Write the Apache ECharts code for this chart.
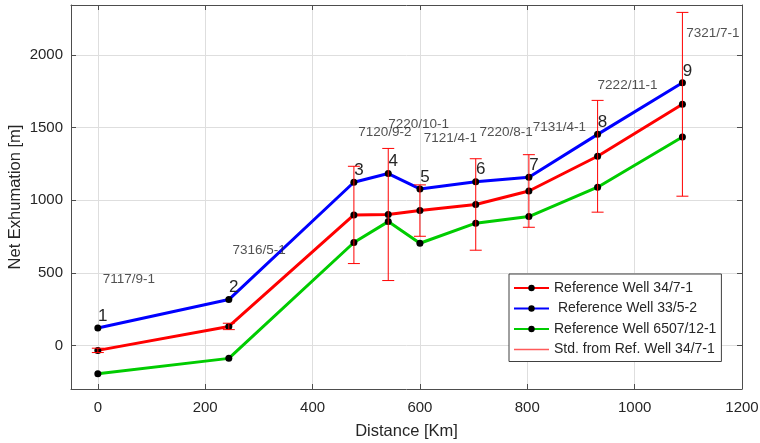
<!DOCTYPE html>
<html>
<head>
<meta charset="utf-8">
<script src="https://cdn.jsdelivr.net/npm/echarts@6/dist/echarts.min.js"></script>
<style>
  html, body { margin: 0; padding: 0; background: #fff; }
  #chart { width: 760px; height: 443px; }
</style>
</head>
<body>
<div id="chart"></div>
<script>
// Well numbering and distance along the profile
const wellNumbers = ['1', '2', '3', '4', '5', '6', '7', '8', '9'];
const distanceKm = [0, 244, 477, 541, 600, 704, 803, 931, 1089];

// Net exhumation estimates [m] relative to each reference well
const exhumRef34_7_1 = [-34, 131, 899, 902, 929, 971, 1064, 1303, 1661];
const exhumRef33_5_2 = [120, 316, 1124, 1184, 1078, 1128, 1158, 1454, 1809];
const exhumRef6507_12_1 = [-195, -89, 709, 853, 704, 842, 888, 1090, 1436];

// Standard deviation [m] from reference well 34/7-1
const stdRef34_7_1 = [15, 22, 335, 455, 177, 315, 250, 385, 633];

// Well names and where their text sits (data units)
const wellNames = ['7117/9-1', '7316/5-1', '7120/9-2', '7220/10-1', '7121/4-1',
                   '7220/8-1', '7131/4-1', '7222/11-1', '7321/7-1'];
const wellNameX = [9, 251, 485, 541, 607, 711, 810, 931, 1096];
const wellNameY = [459, 658, 1465, 1525, 1429, 1470, 1505, 1794, 2152];

// Axis ticks
const xTicks = [0, 200, 400, 600, 800, 1000, 1200];
const yTicks = [0, 500, 1000, 1500, 2000];

const seriesNames = ['Reference Well 34/7-1', ' Reference Well 33/5-2',
                     'Reference Well 6507/12-1', 'Std. from Ref. Well 34/7-1'];

const FONT = '"Liberation Sans", Arial, Helvetica, sans-serif';
const TEXT = '#262626';
const AXIS = '#4d4d4d';

const pairs = (ys) => distanceKm.map((x, i) => [x, ys[i]]);
const plain = (v) => String(v);

function wellLine(name, color, ys, extra) {
  return Object.assign({
    name: name,
    type: 'line',
    data: pairs(ys),
    symbol: 'circle',
    symbolSize: 7,
    showAllSymbol: true,
    itemStyle: { color: '#000' },
    lineStyle: { color: color, width: 3 },
    emphasis: { disabled: true },
    z: 3
  }, extra || {});
}

const chart = echarts.init(document.getElementById('chart'), null, { renderer: 'canvas' });

const xAxisBase = {
  type: 'value', min: -50, max: 1200,
  axisLine: { show: true, onZero: false, lineStyle: { color: AXIS, width: 1 } },
  axisTick: { show: true, inside: true, length: 5, customValues: xTicks, lineStyle: { color: AXIS } },
};
const yAxisBase = {
  type: 'value', min: -300, max: 2345,
  axisLine: { show: true, onZero: false, lineStyle: { color: AXIS, width: 1 } },
  axisTick: { show: true, inside: true, length: 5, customValues: yTicks, lineStyle: { color: AXIS } },
};

chart.setOption({
  animation: false,
  backgroundColor: '#fff',
  textStyle: { fontFamily: FONT },
  grid: { left: 71, right: 18, top: 5, bottom: 54, containLabel: false, outerBoundsMode: 'none' },
  xAxis: [
    Object.assign({}, xAxisBase, {
      position: 'bottom',
      name: 'Distance [Km]', nameLocation: 'middle', nameGap: 34, nameMoveOverlap: false,
      nameTextStyle: { fontSize: 16.5, color: TEXT, fontFamily: FONT },
      axisLabel: { show: true, customValues: xTicks, formatter: plain, margin: 11, fontSize: 15, color: TEXT, fontFamily: FONT },
      splitLine: { show: true, lineStyle: { color: '#dedede', width: 1 } }
    }),
    Object.assign({}, xAxisBase, {
      position: 'top',
      axisLabel: { show: false },
      splitLine: { show: false }
    })
  ],
  yAxis: [
    Object.assign({}, yAxisBase, {
      position: 'left',
      name: 'Net Exhumation [m]', nameLocation: 'middle', nameGap: 47, nameMoveOverlap: false,
      nameTextStyle: { fontSize: 16.5, color: TEXT, fontFamily: FONT },
      axisLabel: { show: true, customValues: yTicks, formatter: plain, margin: 8, fontSize: 15, color: TEXT, fontFamily: FONT },
      splitLine: { show: true, lineStyle: { color: '#dedede', width: 1 } }
    }),
    Object.assign({}, yAxisBase, {
      position: 'right',
      axisLabel: { show: false },
      splitLine: { show: false }
    })
  ],
  legend: {
    orient: 'vertical',
    left: 509, top: 274,
    padding: [7, 5, 5, 4],
    itemGap: 6.5,
    itemWidth: 35, itemHeight: 8,
    backgroundColor: '#fff',
    borderColor: '#404040', borderWidth: 1,
    textStyle: { fontSize: 14, color: TEXT, fontFamily: FONT },
    selectedMode: false,
    data: [
      { name: seriesNames[0] },
      { name: seriesNames[1] },
      { name: seriesNames[2] },
      { name: seriesNames[3], icon: 'path://M0,0H35V1.5H0Z',
        itemStyle: { color: '#ff5a5a', borderColor: '#ff5a5a', borderWidth: 0 } }
    ]
  },
  series: [
    wellLine(seriesNames[0], '#ff0000', exhumRef34_7_1),
    wellLine(seriesNames[1], '#0000ff', exhumRef33_5_2, {
      label: {
        show: true, position: 'top', distance: 0, offset: [5, 0],
        fontSize: 17, color: TEXT, fontFamily: FONT,
        formatter: (p) => wellNumbers[p.dataIndex]
      }
    }),
    wellLine(seriesNames[2], '#00cc00', exhumRef6507_12_1),
    {
      name: seriesNames[3],
      type: 'custom',
      itemStyle: { color: '#ff0000', borderColor: '#ff0000' },
      data: distanceKm.map((x, i) => [x, exhumRef34_7_1[i] - stdRef34_7_1[i], exhumRef34_7_1[i] + stdRef34_7_1[i]]),
      encode: { x: 0, y: [1, 2] },
      z: 4,
      silent: true,
      renderItem: function (params, api) {
        const x = api.value(0);
        const lo = api.coord([x, api.value(1)]);
        const hi = api.coord([x, api.value(2)]);
        const cap = 6;
        const st = { stroke: '#ff0000', lineWidth: 1 };
        return {
          type: 'group',
          children: [
            { type: 'line', shape: { x1: lo[0], y1: lo[1], x2: hi[0], y2: hi[1] }, style: st },
            { type: 'line', shape: { x1: hi[0] - cap, y1: hi[1], x2: hi[0] + cap, y2: hi[1] }, style: st },
            { type: 'line', shape: { x1: lo[0] - cap, y1: lo[1], x2: lo[0] + cap, y2: lo[1] }, style: st }
          ]
        };
      }
    },
    {
      name: 'wellNames',
      type: 'scatter',
      silent: true,
      symbolSize: 0,
      data: wellNameX.map((x, i) => [x, wellNameY[i]]),
      label: {
        show: true, position: 'right', distance: 0,
        fontSize: 13.5, color: TEXT, fontFamily: FONT,
        formatter: (p) => wellNames[p.dataIndex]
      },
      z: 5
    }
  ]
});
</script>
</body>
</html>
